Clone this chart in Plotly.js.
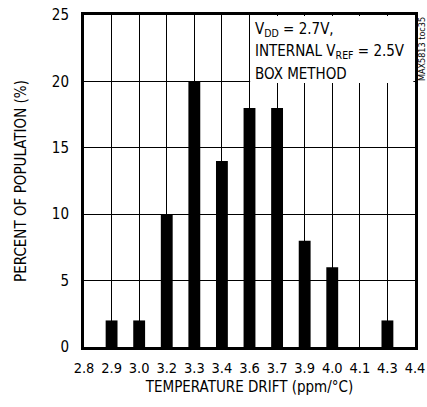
<!DOCTYPE html>
<html>
<head>
<meta charset="utf-8">
<script src="https://cdn.plot.ly/plotly-3.0.1.min.js"></script>
<style>html,body{margin:0;padding:0;background:#fff;}#chart{width:427px;height:407px;}</style>
</head>
<body>
<div id="chart"></div>
<script>
const tickLabels = ["2.8","2.9","3.0","3.2","3.3","3.4","3.6","3.7","3.9","4.0","4.1","4.3","4.4"];
const barCategories = ["2.9","3.0","3.2","3.3","3.4","3.6","3.7","3.9","4.0","4.1","4.3"];
const percentValues = [2, 2, 10, 20, 14, 18, 18, 8, 6, 0, 2];
const yTicks = [0, 5, 10, 15, 20, 25];
const noteLines = ['V<sub>DD</sub> = 2.7V,', 'INTERNAL V<sub>REF</sub> = 2.5V', 'BOX METHOD'];

const FONT = '"DejaVu Sans Condensed", "Liberation Sans Narrow", Arial, sans-serif';
const tickPos = tickLabels.map((_, i) => i);
const barX = barCategories.map(c => tickLabels.indexOf(c));

const trace = {
  type: 'bar',
  x: barX,
  y: percentValues,
  width: 0.43,
  marker: {color: '#000', line: {width: 0}},
  hoverinfo: 'x+y'
};

const noteY = [0.955, 0.889, 0.821];
const noteAnns = noteLines.map((t, i) => ({
  xref: 'paper', yref: 'paper', x: 0.51, y: noteY[i], xanchor: 'left', yanchor: 'middle', align: 'left',
  showarrow: false, font: {family: FONT, size: 15, color: '#000'}, text: t
}));

const layout = {
  width: 427, height: 407,
  margin: {l: 84, r: 12, t: 15, b: 60, pad: 0},
  paper_bgcolor: '#fff', plot_bgcolor: '#fff',
  showlegend: false,
  font: {family: FONT, size: 15, color: '#000'},
  xaxis: {
    range: [0, 12],
    tickvals: tickPos, ticktext: tickLabels,
    showgrid: true, gridcolor: '#000', gridwidth: 1,
    zeroline: false,
    showline: true, mirror: true, linecolor: '#000', linewidth: 3,
    ticks: '', ticklabelstandoff: 6,
    tickfont: {family: FONT, size: 14.5, color: '#000'},
    title: {text: 'TEMPERATURE DRIFT (ppm/°C)', font: {family: FONT, size: 15, color: '#000'}, standoff: 7},
    fixedrange: true
  },
  yaxis: {
    range: [0, 25],
    tickvals: yTicks, ticktext: yTicks.map(String),
    showgrid: true, gridcolor: '#000', gridwidth: 1,
    zeroline: false,
    showline: true, mirror: true, linecolor: '#000', linewidth: 3,
    ticks: '', ticklabelstandoff: 9,
    tickfont: {family: FONT, size: 15, color: '#000'},
    title: {text: 'PERCENT OF POPULATION (%)', font: {family: FONT, size: 15, color: '#000'}, standoff: 22},
    fixedrange: true
  },
  shapes: [{
    type: 'rect', xref: 'paper', yref: 'paper',
    x0: 0.502, x1: 0.995, y0: 0.795, y1: 0.997,
    fillcolor: '#fff', line: {width: 0}, layer: 'above'
  }],
  annotations: noteAnns.concat([
    {xref: 'paper', yref: 'paper', x: 1.0, y: 1.0, xanchor: 'center', yanchor: 'top', xshift: 7,
     showarrow: false, textangle: -90, font: {family: FONT, size: 9, color: '#000'},
     text: 'MAX5813 toc35'}
  ])
};

Plotly.newPlot('chart', [trace], layout, {displayModeBar: false, staticPlot: true});
</script>
</body>
</html>
